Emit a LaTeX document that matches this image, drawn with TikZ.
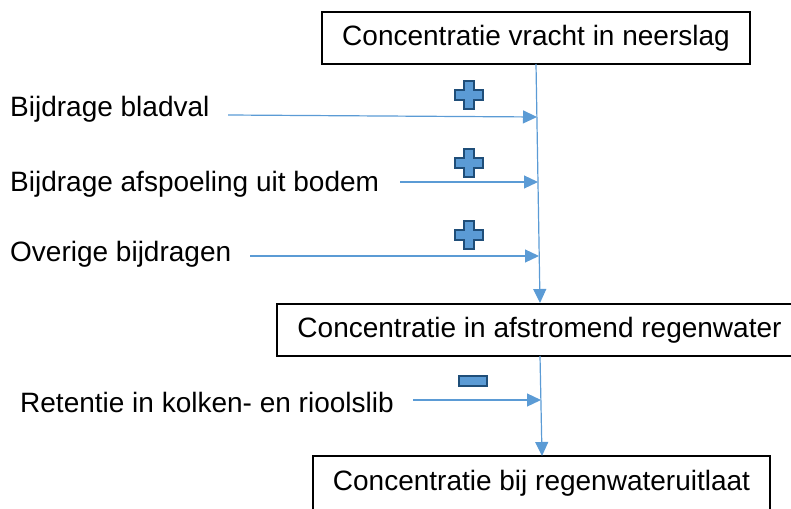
\documentclass[tikz,border=0pt]{standalone}
\usepackage{fontspec}
\setmainfont{Liberation Sans}
\usetikzlibrary{arrows.meta,calc}
\definecolor{lineblue}{HTML}{5B9BD5}
\definecolor{signfill}{HTML}{5B9BD5}
\definecolor{signedge}{HTML}{1F4E79}
\begin{document}
\begin{tikzpicture}[x=1pt,y=-1pt,
  box/.style={draw=black,line width=1.1pt,fill=white,inner sep=0pt,font=\fontsize{28}{32}\selectfont},
  lbl/.style={anchor=base west,inner sep=0pt,font=\fontsize{28}{32}\selectfont},
  flow/.style={draw=lineblue,line width=1.2pt,-{Triangle[length=14pt,width=13pt]}},
  sign/.style={fill=signfill,draw=signedge,line width=2.2pt,line join=miter}]
\useasboundingbox (0,0) rectangle (791,508);
% boxes
\node[box,minimum width=428pt,minimum height=52pt] (b1) at (536,38) {\raisebox{-1pt}{Concentratie vracht in neerslag}};
\node[box,minimum width=525pt,minimum height=52pt] (b2) at (539.5,330) {\raisebox{-1pt}{Concentratie in afstromend regenwater}};
\node[box,minimum width=457pt,minimum height=54pt] (b3) at (541.5,483) {\raisebox{-1pt}{Concentratie bij regenwateruitlaat}};
% main flow
\coordinate (t1) at (536,64);
\coordinate (e1) at (540,303);
\coordinate (t2) at (540,356);
\coordinate (e2) at (542,456);
\draw[flow] (t1) -- (e1);
\draw[flow] (t2) -- (e2);
% labels
\node[lbl] (l1) at (10,116) {Bijdrage bladval};
\node[lbl] (l2) at (10,191) {Bijdrage afspoeling uit bodem};
\node[lbl] (l3) at (10,261) {Overige bijdragen};
\node[lbl] (l4) at (20,412) {Retentie in kolken- en rioolslib};
% side inflows
\coordinate (s1) at (228,115); \coordinate (j1) at (537,117);
\coordinate (s2) at (400,182); \coordinate (j2) at (538,182);
\coordinate (s3) at (250,256); \coordinate (j3) at (539,256);
\coordinate (s4) at (413,400); \coordinate (j4) at (541,400);
\draw[flow] (s1) -- (j1);
\draw[flow] (s2) -- (j2);
\draw[flow] (s3) -- (j3);
\draw[flow] (s4) -- (j4);
% signs
\foreach \cx/\cy in {469/95, 469/163, 469/235}{
  \draw[sign] ($(\cx,\cy)+(-5,-14)$) -- ++(10,0) -- ++(0,9) -- ++(9,0) -- ++(0,10) -- ++(-9,0) -- ++(0,9) -- ++(-10,0) -- ++(0,-9) -- ++(-9,0) -- ++(0,-10) -- ++(9,0) -- cycle;
}
\draw[sign] (459,376) rectangle (487,386);
\end{tikzpicture}
\end{document}
